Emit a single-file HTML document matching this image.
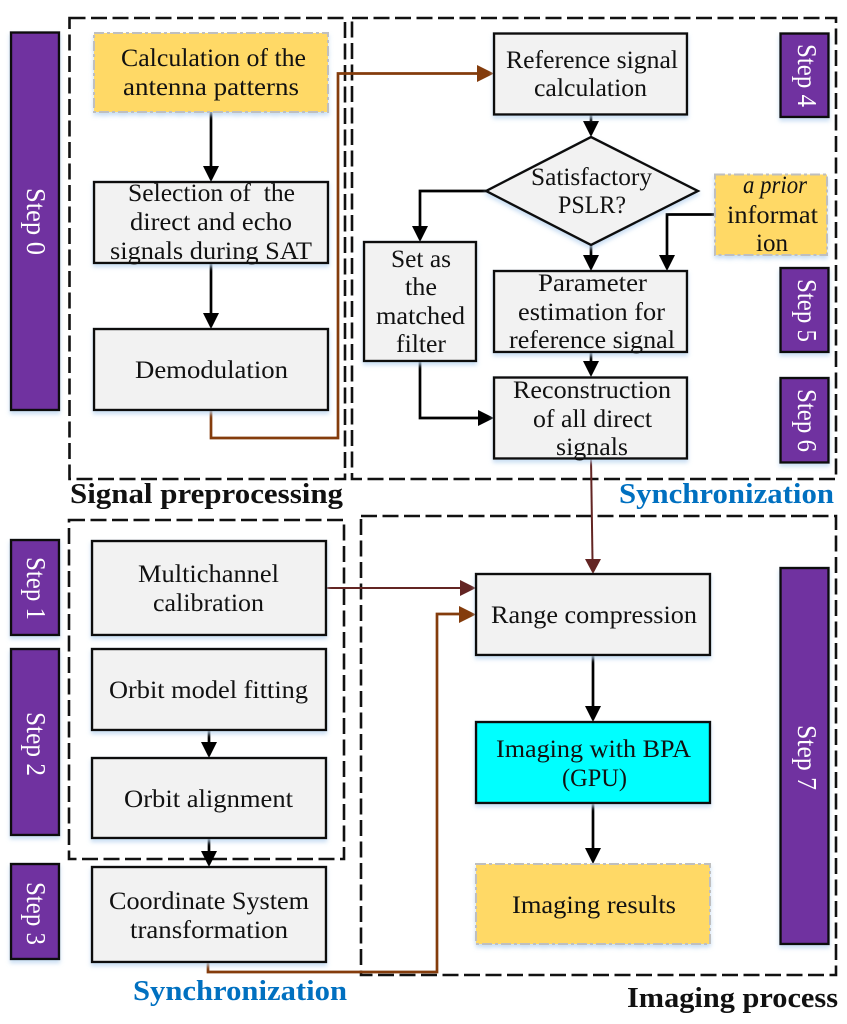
<!DOCTYPE html>
<html><head><meta charset="utf-8"><style>
html,body{margin:0;padding:0;background:#fff}
svg{display:block}
text{font-family:"Liberation Serif",serif}
.t{font-size:25px;fill:#111}
.b{font-size:29px;font-weight:bold;fill:#111}
.s{font-size:29px;font-weight:bold;fill:#0070c0}
.w{font-size:27px;fill:#fff}
</style></head><body>
<svg width="847" height="1024" viewBox="0 0 847 1024" xmlns="http://www.w3.org/2000/svg">
<defs>
<filter id="sh" x="-20%" y="-20%" width="140%" height="140%"><feDropShadow dx="0" dy="3" stdDeviation="2" flood-color="#bcd6f0" flood-opacity=".8"/></filter>
</defs>
<rect width="847" height="1024" fill="#fff"/>

<!-- dashed groups -->
<g fill="none" stroke="#111" stroke-width="2.600" stroke-dasharray="16 5.500">
<rect x="69.500" y="18" width="275.500" height="461"/>
<rect x="352" y="18" width="484" height="461"/>
<rect x="69" y="520" width="275" height="339"/>
<rect x="361" y="516" width="475" height="459"/>
</g>

<!-- step bars -->
<g fill="#7030a0" stroke="#111" stroke-width="2.400" filter="url(#sh)">
<rect x="11" y="32.500" width="48" height="377.500"/>
<rect x="11" y="540" width="48" height="95"/>
<rect x="11" y="649" width="48" height="186"/>
<rect x="11" y="864" width="48" height="95"/>
<rect x="780.500" y="33.500" width="48" height="83.500"/>
<rect x="780.500" y="268" width="48" height="84"/>
<rect x="780.500" y="378" width="48" height="84.500"/>
<rect x="780.500" y="568" width="48" height="376"/>
</g>
<g class="w">
<text class="w" transform="translate(27,188) rotate(90)" textLength="67" lengthAdjust="spacingAndGlyphs">Step 0</text>
<text class="w" transform="translate(27,557) rotate(90)" textLength="63" lengthAdjust="spacingAndGlyphs">Step 1</text>
<text class="w" transform="translate(27,712) rotate(90)" textLength="64" lengthAdjust="spacingAndGlyphs">Step 2</text>
<text class="w" transform="translate(27,882) rotate(90)" textLength="63" lengthAdjust="spacingAndGlyphs">Step 3</text>
<text class="w" transform="translate(798,44) rotate(90)" textLength="63" lengthAdjust="spacingAndGlyphs">Step 4</text>
<text class="w" transform="translate(798,279) rotate(90)" textLength="63" lengthAdjust="spacingAndGlyphs">Step 5</text>
<text class="w" transform="translate(798,389) rotate(90)" textLength="63" lengthAdjust="spacingAndGlyphs">Step 6</text>
<text class="w" transform="translate(798,725) rotate(90)" textLength="65" lengthAdjust="spacingAndGlyphs">Step 7</text>
</g>

<!-- connectors -->
<g fill="none" stroke="#000" stroke-width="2.700">
<path d="M211 112V170"/><path d="M211 263V316"/>
<path d="M591 114V125"/><path d="M486 191H420V228"/>
<path d="M591 245V258"/><path d="M715 214.500H667V257"/>
<path d="M591 352V364"/><path d="M420 361V418H480"/>
<path d="M209 730V745"/><path d="M209 838V854"/>
<path d="M593 655V708"/><path d="M593 803V850"/>
</g>
<g fill="#000">
<polygon points="203,166 219,166 211,182"/>
<polygon points="203,313 219,313 211,329"/>
<polygon points="583,121 599,121 591,137"/>
<polygon points="412,226 428,226 420,242"/>
<polygon points="583,255 599,255 591,271"/>
<polygon points="659,255 675,255 667,271"/>
<polygon points="583,361 599,361 591,377"/>
<polygon points="478,410 478,426 494,418"/>
<polygon points="201,742 217,742 209,758"/>
<polygon points="201,851 217,851 209,867"/>
<polygon points="585,706 601,706 593,722"/>
<polygon points="585,848 601,848 593,864"/>
</g>
<g fill="none" stroke="#843c0c" stroke-width="2.700">
<path d="M211 410V438H338V73.500H480"/>
<path d="M208 962V972H437V614H460"/>
</g>
<polygon points="477,65 477,82 494,73.500" fill="#843c0c"/>
<polygon points="459,606 459,623 476,614.500" fill="#843c0c"/>
<g fill="none" stroke="#632523" stroke-width="2">
<path d="M591 458L592.500 560"/><path d="M326 588H462"/>
</g>
<polygon points="585,559 601,559 593,574" fill="#632523"/>
<polygon points="460,580 460,596 476,588" fill="#632523"/>

<!-- boxes -->
<g fill="#f2f2f2" stroke="#111" stroke-width="2.400" filter="url(#sh)">
<rect x="94" y="182" width="234" height="81"/>
<rect x="94" y="329" width="234" height="81"/>
<rect x="494" y="33.500" width="193" height="81"/>
<polygon points="591,137 698,191 591,245 486,191"/>
<rect x="364" y="242" width="112" height="119"/>
<rect x="494" y="271" width="193" height="81"/>
<rect x="494" y="377.500" width="193" height="81"/>
<rect x="92" y="541" width="234" height="94"/>
<rect x="92" y="649" width="234" height="81"/>
<rect x="92" y="758" width="234" height="80"/>
<rect x="92" y="867" width="234" height="95"/>
<rect x="476" y="574" width="234" height="81"/>
<rect x="476" y="722" width="234" height="81" fill="#00ffff"/>
</g>
<g fill="#ffd966" stroke="#bfbfbf" stroke-width="2" stroke-dasharray="10 3 3 3" filter="url(#sh)">
<rect x="94" y="33" width="234" height="79"/>
<rect x="715" y="174.500" width="112" height="80.500"/>
<rect x="476" y="864" width="234" height="80"/>
</g>

<!-- box text -->
<g class="t">
<text class="t" x="121" y="66" textLength="185" lengthAdjust="spacingAndGlyphs">Calculation of the</text>
<text class="t" x="123" y="95" textLength="176" lengthAdjust="spacingAndGlyphs">antenna patterns</text>
<text class="t" x="128" y="201" textLength="167" lengthAdjust="spacingAndGlyphs" xml:space="preserve">Selection of  the</text>
<text class="t" x="130" y="230" textLength="162" lengthAdjust="spacingAndGlyphs">direct and echo</text>
<text class="t" x="110" y="259" textLength="202" lengthAdjust="spacingAndGlyphs">signals during SAT</text>
<text class="t" x="135" y="378" textLength="153" lengthAdjust="spacingAndGlyphs">Demodulation</text>
<text class="t" x="506" y="68" textLength="172" lengthAdjust="spacingAndGlyphs">Reference signal</text>
<text class="t" x="534" y="96" textLength="113" lengthAdjust="spacingAndGlyphs">calculation</text>
<text class="t" x="531" y="185" textLength="121" lengthAdjust="spacingAndGlyphs">Satisfactory</text>
<text class="t" x="558" y="213" textLength="68" lengthAdjust="spacingAndGlyphs">PSLR?</text>
<text class="t" x="743" y="193" textLength="64" lengthAdjust="spacingAndGlyphs" font-style="italic">a prior</text>
<text class="t" x="727" y="223" textLength="91" lengthAdjust="spacingAndGlyphs">informat</text>
<text class="t" x="756" y="251" textLength="32" lengthAdjust="spacingAndGlyphs">ion</text>
<text class="t" x="391" y="267" textLength="60" lengthAdjust="spacingAndGlyphs">Set as</text>
<text class="t" x="405" y="295" textLength="32" lengthAdjust="spacingAndGlyphs">the</text>
<text class="t" x="376" y="324" textLength="89" lengthAdjust="spacingAndGlyphs">matched</text>
<text class="t" x="396" y="352" textLength="50" lengthAdjust="spacingAndGlyphs">filter</text>
<text class="t" x="538" y="291" textLength="109" lengthAdjust="spacingAndGlyphs">Parameter</text>
<text class="t" x="518" y="320" textLength="147" lengthAdjust="spacingAndGlyphs">estimation for</text>
<text class="t" x="509" y="348" textLength="166" lengthAdjust="spacingAndGlyphs">reference signal</text>
<text class="t" x="513" y="398" textLength="158" lengthAdjust="spacingAndGlyphs">Reconstruction</text>
<text class="t" x="533" y="427" textLength="119" lengthAdjust="spacingAndGlyphs">of all direct</text>
<text class="t" x="556" y="455" textLength="72" lengthAdjust="spacingAndGlyphs">signals</text>
<text class="t" x="138" y="582" textLength="141" lengthAdjust="spacingAndGlyphs">Multichannel</text>
<text class="t" x="153" y="611" textLength="111" lengthAdjust="spacingAndGlyphs">calibration</text>
<text class="t" x="109" y="698" textLength="199" lengthAdjust="spacingAndGlyphs">Orbit model fitting</text>
<text class="t" x="124" y="807" textLength="169" lengthAdjust="spacingAndGlyphs">Orbit alignment</text>
<text class="t" x="109" y="909" textLength="200" lengthAdjust="spacingAndGlyphs">Coordinate System</text>
<text class="t" x="130" y="938" textLength="158" lengthAdjust="spacingAndGlyphs">transformation</text>
<text class="t" x="491" y="623" textLength="206" lengthAdjust="spacingAndGlyphs">Range compression</text>
<text class="t" x="496" y="757" textLength="195" lengthAdjust="spacingAndGlyphs">Imaging with BPA</text>
<text class="t" x="562" y="786" textLength="65" lengthAdjust="spacingAndGlyphs">(GPU)</text>
<text class="t" x="512" y="913" textLength="164" lengthAdjust="spacingAndGlyphs">Imaging results</text>
</g>

<!-- section labels -->
<text class="b" x="70" y="503" textLength="273" lengthAdjust="spacingAndGlyphs">Signal preprocessing</text>
<text class="s" x="619" y="503" textLength="215" lengthAdjust="spacingAndGlyphs">Synchronization</text>
<text class="s" x="133" y="1000" textLength="214" lengthAdjust="spacingAndGlyphs">Synchronization</text>
<text class="b" x="627" y="1007" textLength="211" lengthAdjust="spacingAndGlyphs">Imaging process</text>
</svg>
</body></html>
